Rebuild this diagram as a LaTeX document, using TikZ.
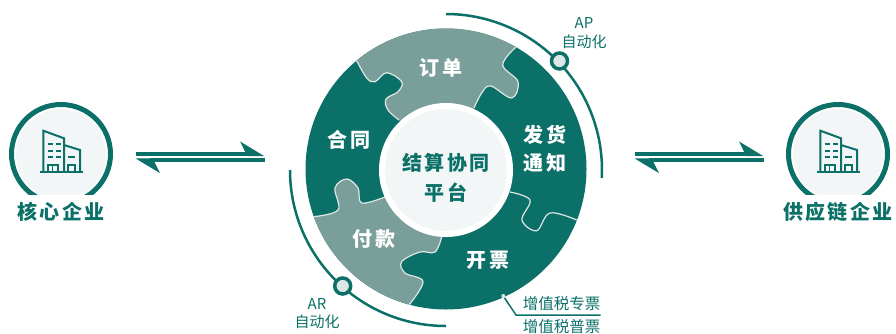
\documentclass[tikz,border=0pt]{standalone}
\usepackage{fontspec}
\setmainfont{Noto Sans CJK SC}
\newfontfamily\spaced[LetterSpace=12]{Noto Sans CJK SC}
\usetikzlibrary{arrows.meta}
\definecolor{tealdark}{HTML}{0B7068}
\definecolor{teallight}{HTML}{7A9E99}
\definecolor{hubfill}{HTML}{F2F6F6}
\definecolor{seam}{HTML}{DDE7E5}
\tikzset{
  pieceText/.style={text=white, font=\spaced\bfseries\fontsize{20}{20}\selectfont, inner sep=0pt},
  hubText/.style={text=tealdark, font=\spaced\bfseries\fontsize{20}{20}\selectfont, inner sep=0pt},
  sideText/.style={text=tealdark, font=\spaced\bfseries\fontsize{20}{20}\selectfont, inner sep=0pt},
  smallText/.style={text=tealdark, font=\fontsize{15}{15}\selectfont, inner sep=0pt},
  sideRing/.style={circle, draw=tealdark, line width=5pt, fill=white, minimum size=99pt, inner sep=0pt},
  sideDisc/.style={circle, fill=hubfill, minimum size=90pt, inner sep=0pt},
  seamLine/.style={draw=seam, line width=1.2pt},
  autoDot/.style={circle, draw=tealdark, fill=seam, line width=3.5pt, minimum size=16pt, inner sep=0pt},
  flowLine/.style={draw=tealdark, line width=4pt},
  building/.pic={
    \draw[tealdark, line width=2.2pt] (-21,18) -- (22,18);
    \draw[tealdark, line width=2pt] (-17.7,18) -- (-17.7,-23.3) -- (3,-15.7) -- (3,18);
    \draw[tealdark, line width=2pt] (3,-9) -- (19,-4) -- (19,18);
    \foreach \y in {-9.7,-3,3} {
      \draw[tealdark, line width=2pt] (-13.3,\y) -- (-8.3,\y);
      \draw[tealdark, line width=2pt] (-5,\y) -- (0,\y);
    }
    \draw[tealdark, line width=2pt] (7,3.3) -- (14,3.3);
    \draw[tealdark, line width=2pt] (-13.3,18) -- (-13.3,11) -- (-3.3,11) -- (-3.3,18);
    \draw[tealdark, line width=1.5pt] (-8.3,11) -- (-8.3,18);
    \draw[tealdark, line width=2pt] (7,18) -- (7,11) -- (14,11) -- (14,18);
  }
}
\begin{document}
\begin{tikzpicture}[x=1pt,y=-1pt]
\useasboundingbox (0,0) rectangle (896,333);

% Left company
\node[sideRing] (coreRing) at (61,154) {};
\node[sideDisc] (coreDisc) at (61,154) {};
\pic at (61,154) {building};
\fill[white] (0,195) rectangle (130,230);
\node[sideText] (coreText) at (61,212) {核心企业};

% Right company
\node[sideRing] (supplyRing) at (838,154) {};
\node[sideDisc] (supplyDisc) at (838,154) {};
\pic at (838,154) {building};
\fill[white] (770,195) rectangle (896,230);
\node[sideText] (supplyText) at (838,212) {供应链企业};

% Wheel
\fill[tealdark] (446,169) circle[radius=140.5];
\begin{scope}
  \clip (446,169) circle[radius=140.5];
  \fill[teallight] plot[smooth, tension=.6] coordinates {(399,120) (388,110) (386,99) (398,91.7) (401.7,81.7) (386.7,72.7) (375,81.7) (366.7,78) (356.7,60.7)}
    -- (340,10) -- (530,10) -- plot[smooth, tension=.6] coordinates {(515.7,47.3) (502.7,65) (518,81.7) (511.7,98) (490.7,86) (481.7,93) (474,108)} -- (446,170) -- cycle;
  \fill[teallight] plot[smooth, tension=.6] coordinates {(385,197) (361.7,203) (358,188) (346.7,179) (335,188) (338,210) (313.3,216.7)}
    -- (290,240) -- (370,325) -- plot[smooth, tension=.6] coordinates {(409,305) (423,281.7) (405,273) (401.7,261.7) (420,252) (435,252) (441.7,236.7)} -- (446,170) -- cycle;
\end{scope}

% Seams
\draw[seamLine] plot[smooth, tension=.6] coordinates {(399,120) (388,110) (386,99) (398,91.7) (401.7,81.7) (386.7,72.7) (375,81.7) (366.7,78) (356.7,60.7)};
\draw[seamLine] plot[smooth, tension=.6] coordinates {(515.7,47.3) (502.7,65) (518,81.7) (511.7,98) (490.7,86) (481.7,93) (474,108)};
\draw[seamLine] plot[smooth, tension=.6] coordinates {(385,197) (361.7,203) (358,188) (346.7,179) (335,188) (338,210) (313.3,216.7)};
\draw[seamLine] plot[smooth, tension=.6] coordinates {(409,305) (423,281.7) (405,273) (401.7,261.7) (420,252) (435,252) (441.7,236.7)};
\draw[seamLine] plot[smooth, tension=.6] coordinates {(510,192) (530,200) (522,220) (536.7,230.7) (550,213) (576.7,220)};

% Hub
\fill[white] (446,170) circle[radius=67];
\fill[hubfill] (446,170) circle[radius=61];
\node[hubText] (hubTop) at (446,163) {结算协同};
\node[hubText] (hubBottom) at (446,193) {平台};

% Piece labels
\node[pieceText] (orderText) at (441,68) {订单};
\node[pieceText] (contractText) at (349,140) {合同};
\node[pieceText] (shipTop) at (545,135) {发货};
\node[pieceText] (shipBottom) at (545,163) {通知};
\node[pieceText] (invoiceText) at (488,260) {开票};
\node[pieceText] (payText) at (374,239) {付款};

% Automation arcs
\draw[tealdark, line width=2.5pt] (446,14) arc[start angle=-90, end angle=3, radius=156];
\draw[tealdark, line width=2.5pt] (290,170) arc[start angle=180, end angle=90, radius=156];
\node[autoDot] (apDot) at (559.5,61) {};
\node[autoDot] (arDot) at (342.7,286) {};
\node[smallText] (apTop) at (584,23) {AP};
\node[smallText] (apBottom) at (584,42) {自动化};
\node[smallText] (arTop) at (317,304) {AR};
\node[smallText] (arBottom) at (317,322) {自动化};

% Invoice types
\node[circle, fill=seam, minimum size=4pt, inner sep=0pt] (invoiceDot) at (503.3,296) {};
\coordinate (invoiceEnd) at (600.5,315);
\draw[tealdark, line width=1.5pt] (invoiceDot) -- (516,315) -- (invoiceEnd);
\node[smallText, font=\fontsize{15.5}{16}\selectfont] (specialText) at (561.7,303.5) {增值税专票};
\node[smallText, font=\fontsize{15.5}{16}\selectfont] (normalText) at (561.7,327) {增值税普票};

% Flow arrows
\coordinate (leftA) at (135.5,154.3);
\coordinate (leftB) at (264.5,154.3);
\coordinate (leftC) at (135.5,160.3);
\coordinate (leftD) at (264.5,160.3);
\draw[flowLine, -{Stealth[left, length=21pt, width=25pt, inset=6pt]}] (leftA) -- (leftB);
\draw[flowLine, -{Stealth[left, length=21pt, width=25pt, inset=6pt]}] (leftD) -- (leftC);
\coordinate (rightA) at (634.5,154.3);
\coordinate (rightB) at (763.5,154.3);
\coordinate (rightC) at (634.5,160.3);
\coordinate (rightD) at (763.5,160.3);
\draw[flowLine, -{Stealth[left, length=21pt, width=25pt, inset=6pt]}] (rightA) -- (rightB);
\draw[flowLine, -{Stealth[left, length=21pt, width=25pt, inset=6pt]}] (rightD) -- (rightC);
\end{tikzpicture}
\end{document}
